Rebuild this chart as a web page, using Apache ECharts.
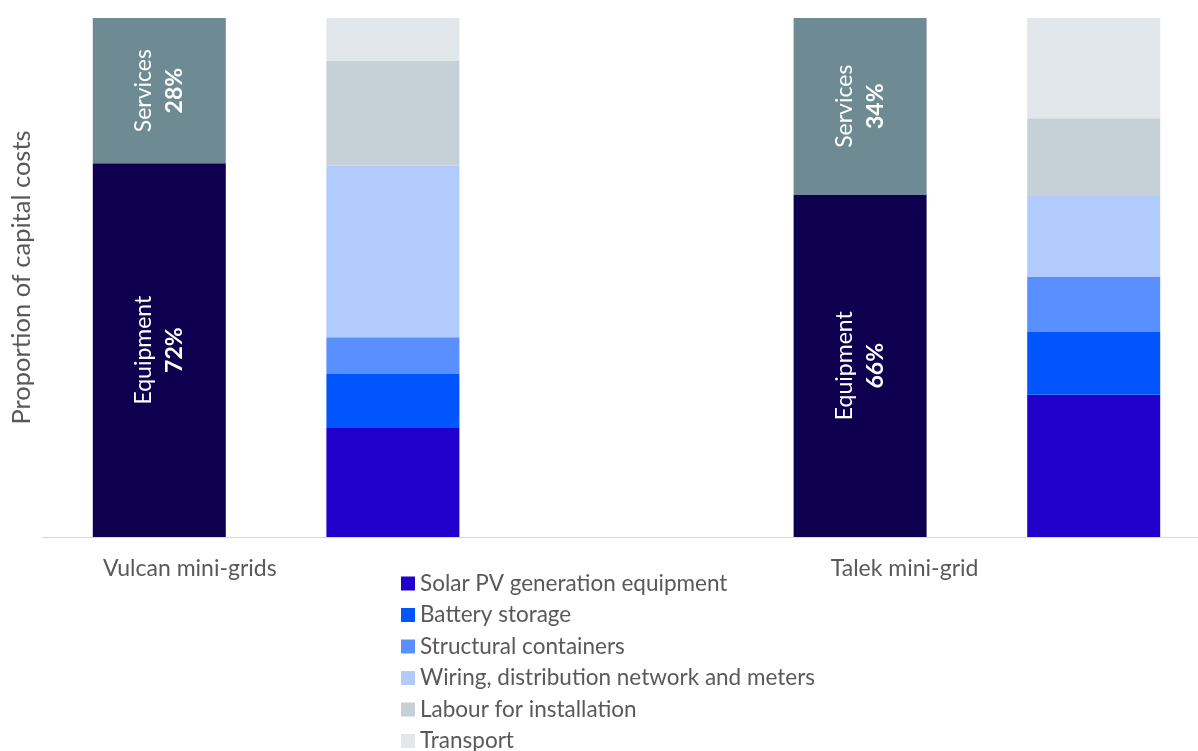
<!DOCTYPE html>
<html>
<head>
<meta charset="utf-8">
<script src="https://cdn.jsdelivr.net/npm/echarts@6/dist/echarts.min.js"></script>
<style>html,body{margin:0;padding:0;background:#fff}#c{width:1198px;height:751px}</style>
</head>
<body>
<div id="c"></div>
<script>
// Slots: Vulcan summary, Vulcan breakdown, gap, Talek summary, Talek breakdown
const slots = ['Vulcan mini-grids', 'vulcan-breakdown', 'gap', 'Talek mini-grid', 'talek-breakdown'];
const groupLabels = ['Vulcan mini-grids', 'Talek mini-grid'];
const equipment = [72, '-', '-', 66, '-'];
const services = [28, '-', '-', 34, '-'];
const solarPV = ['-', 21.0, '-', '-', 27.4];
const battery = ['-', 10.4, '-', '-', 12.1];
const structural = ['-', 7.1, '-', '-', 10.6];
const wiring = ['-', 33.1, '-', '-', 15.6];
const labour = ['-', 20.2, '-', '-', 15.0];
const transport = ['-', 8.2, '-', '-', 19.3];
const breakdownNames = ['Solar PV generation equipment', 'Battery storage', 'Structural containers', 'Wiring, distribution network and meters', 'Labour for installation', 'Transport'];

const FONT = 'Lato';
const GRAY = '#595959';

function summaryLabel(name) {
  return {
    show: true, position: 'inside', rotate: 90, color: '#fff', fontFamily: FONT,
    formatter: p => '{n|' + name + '}\n{b|' + p.value + '%}',
    rich: {
      n: { fontSize: 23, fontFamily: FONT, color: '#fff', lineHeight: 31 },
      b: { fontSize: 23, fontFamily: FONT, fontWeight: 'bold', color: '#fff', lineHeight: 31 }
    }
  };
}

const colors = ['#2200cc', '#0055ff', '#5a8fff', '#b0cbfc', '#c5d1d7', '#e1e7ea'];
const breakdownData = [solarPV, battery, structural, wiring, labour, transport];

const series = [
  { name: 'Equipment', type: 'bar', stack: 'total', barWidth: 133, data: equipment,
    itemStyle: { color: '#0e004e' }, label: summaryLabel('Equipment') },
  { name: 'Services', type: 'bar', stack: 'total', barWidth: 133, data: services,
    itemStyle: { color: '#6e8b94' }, label: summaryLabel('Services') }
];
breakdownNames.forEach((n, i) => {
  series.push({ name: n, type: 'bar', stack: 'total', barWidth: 133, data: breakdownData[i],
    itemStyle: { color: colors[i] } });
});

const chart = echarts.init(document.getElementById('c'));
chart.setOption({
  animation: false,
  color: ['#0e004e', '#6e8b94'].concat(colors),
  grid: { left: 42.5, width: 1168, top: 18, bottom: 214, containLabel: false, outerBoundsMode: 'none' },
  legend: {
    data: breakdownNames, orient: 'vertical', left: 396, top: 567, height: 400,
    itemWidth: 14, itemHeight: 14, itemGap: 8.5, icon: 'rect',
    textStyle: { fontFamily: FONT, fontSize: 22.5, color: GRAY, lineHeight: 22 }
  },
  xAxis: {
    type: 'category', data: slots,
    axisLine: { lineStyle: { color: '#d9d9d9', width: 1 } },
    axisTick: { show: false },
    axisLabel: {
      interval: 0, margin: 20, fontFamily: FONT, fontSize: 23, color: GRAY,
      formatter: v => v === groupLabels[0] ? '{a|' + v + '}' : (v === groupLabels[1] ? '{b|' + v + '}' : ''),
      rich: {
        a: { fontFamily: FONT, fontSize: 23, color: GRAY, padding: [0, 0, 0, 61] },
        b: { fontFamily: FONT, fontSize: 23, color: GRAY, padding: [0, 0, 0, 89] }
      }
    }
  },
  yAxis: {
    type: 'value', min: 0, max: 100,
    name: 'Proportion of capital costs', nameLocation: 'middle', nameRotate: 90, nameGap: 8,
    nameTextStyle: { fontFamily: FONT, fontSize: 25.5, color: GRAY },
    axisLine: { show: false }, axisTick: { show: false }, axisLabel: { show: false },
    splitLine: { show: false }
  },
  series: series
});
</script>
</body>
</html>
